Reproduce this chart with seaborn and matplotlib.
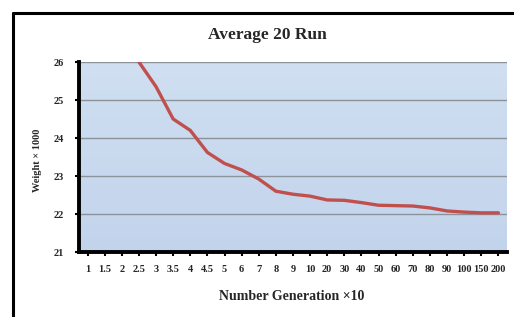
import numpy as np
import pandas as pd
import matplotlib
matplotlib.use('Agg')
import matplotlib.pyplot as plt
from matplotlib.colors import LinearSegmentedColormap
import seaborn as sns

# Data
generasi = ['1', '1.5', '2', '2.5', '3', '3.5', '4', '4.5', '5', '6', '7', '8', '9',
            '10', '20', '30', '40', '50', '60', '70', '80', '90', '100', '150', '200']
berat = [28.4, 27.5, 26.7, 26.0, 25.35, 24.5, 24.2, 23.62, 23.33, 23.16, 22.92, 22.6, 22.52,
         22.47, 22.37, 22.36, 22.3, 22.23, 22.22, 22.21, 22.16, 22.08, 22.05, 22.03, 22.03]
y_ticks = [21, 22, 23, 24, 25, 26]

df = pd.DataFrame({'Generasi': generasi, 'Berat': berat})

sns.set_style('white')
plt.rcParams['font.family'] = ['Liberation Serif', 'DejaVu Serif']

fig = plt.figure(figsize=(5.14, 3.17), dpi=100)
ax = fig.add_axes([79 / 514, 1 - 252 / 317, (507 - 79) / 514, (252 - 62) / 317])

# background gradient like Excel
cmap = LinearSegmentedColormap.from_list('bg', ['#c2d4ec', '#d0dff1'])
grad = np.linspace(0, 1, 100).reshape(-1, 1)
ax.imshow(grad, aspect='auto', cmap=cmap, origin='lower',
          extent=[-0.5, len(generasi) - 0.5, 21, 26], zorder=0)

for t in y_ticks[1:]:
    ax.axhline(t, color='#8c929a', lw=1.0, zorder=1)

sns.lineplot(data=df, x='Generasi', y='Berat', sort=False, color='#c0504d',
             lw=2.4, ax=ax, zorder=3)

ax.set_xlim(-0.5, len(generasi) - 0.5)
ax.set_ylim(21, 26)
ax.set_yticks(y_ticks)
ax.set_yticklabels([str(t) for t in y_ticks], fontsize=7.5, fontweight='bold')
ax.set_xticks(range(len(generasi)))
ax.set_xticklabels(generasi, fontsize=7.5, fontweight='bold')
ax.tick_params(axis='both', direction='out', length=3, width=1.5, color='black', pad=6)
ax.tick_params(axis='y', left=True, pad=8)
ax.tick_params(axis='x', bottom=True)

for side in ['left', 'bottom']:
    ax.spines[side].set_linewidth(2.8)
    ax.spines[side].set_color('black')
    ax.spines[side].set_zorder(5)
ax.spines['top'].set_visible(False)
ax.spines['right'].set_visible(False)

ax.set_xlabel('')
ax.set_ylabel('')

fig.text(267 / 514, 1 - 35 / 317, 'Average 20 Run', ha='center', va='center',
         fontsize=12.5, fontweight='bold')
fig.text(292 / 514, 1 - 296 / 317, 'Number Generation \u00d710', ha='center', va='center',
         fontsize=10, fontweight='bold')
fig.text(37 / 514, 1 - 160 / 317, 'Weight \u00d7 1000', ha='center', va='center',
         rotation=90, fontsize=7.5, fontweight='bold')

# outer frame (top and left edge of the screenshot box)
fig.add_artist(plt.Line2D([13 / 514, 1], [1 - 13 / 317, 1 - 13 / 317], color='black', lw=2.2))
fig.add_artist(plt.Line2D([13 / 514, 13 / 514], [0, 1 - 13 / 317], color='black', lw=2.2))

fig.savefig('out.png', dpi=100)
